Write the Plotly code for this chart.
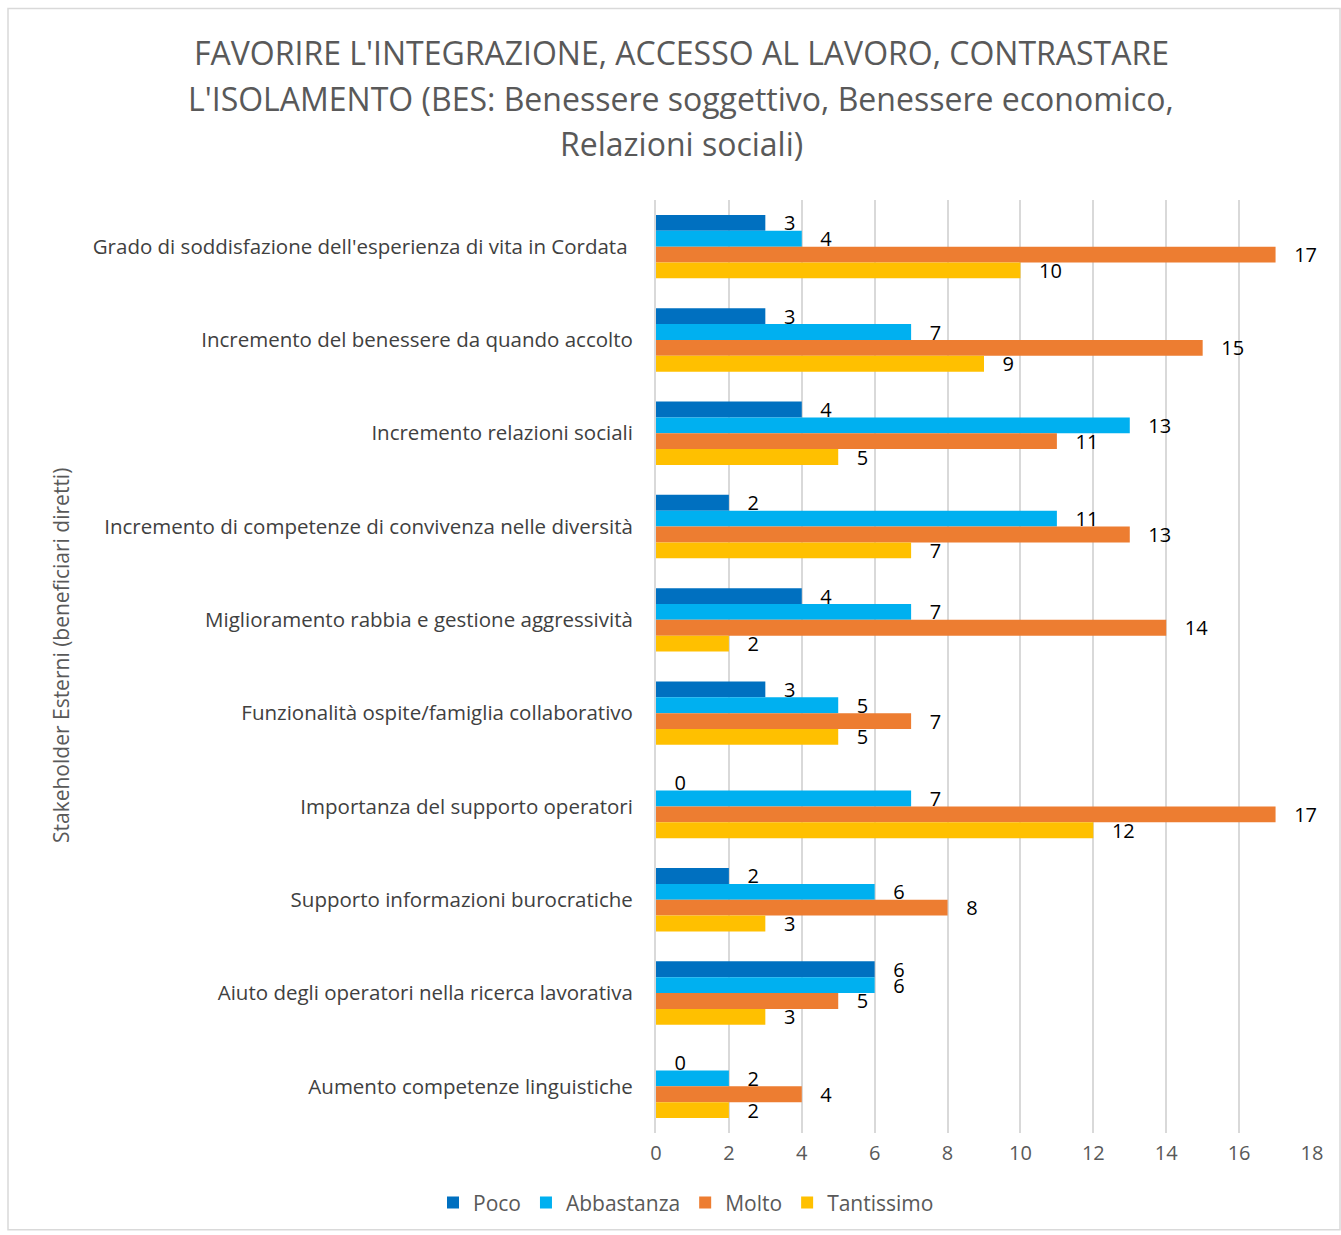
import plotly.graph_objects as go

categories = [
    "Grado di soddisfazione dell'esperienza di vita in Cordata ",
    "Incremento del benessere da quando accolto",
    "Incremento relazioni sociali",
    "Incremento di competenze di convivenza nelle diversità",
    "Miglioramento rabbia e gestione aggressività",
    "Funzionalità ospite/famiglia collaborativo",
    "Importanza del supporto operatori",
    "Supporto informazioni burocratiche",
    "Aiuto degli operatori nella ricerca lavorativa",
    "Aumento competenze linguistiche",
]
poco = [3, 3, 4, 2, 4, 3, 0, 2, 6, 0]
abbastanza = [4, 7, 13, 11, 7, 5, 7, 6, 6, 2]
molto = [17, 15, 11, 13, 14, 7, 17, 8, 5, 4]
tantissimo = [10, 9, 5, 7, 2, 5, 12, 3, 3, 2]

title_lines = [
    "FAVORIRE L'INTEGRAZIONE, ACCESSO AL LAVORO, CONTRASTARE",
    "L'ISOLAMENTO (BES: Benessere soggettivo, Benessere economico,",
    "Relazioni sociali)",
]
y_title = "Stakeholder Esterni (beneficiari diretti)"

series = [
    ("Poco", poco, "#0070C0"),
    ("Abbastanza", abbastanza, "#00B0F0"),
    ("Molto", molto, "#ED7D31"),
    ("Tantissimo", tantissimo, "#FFC000"),
]

FONT = "Open Sans"
fig = go.Figure()
for name, vals, color in series:
    fig.add_trace(go.Bar(
        y=categories, x=vals, name=name, orientation="h",
        marker=dict(color=color, line=dict(width=0)),
        text=vals, texttemplate="   %{x}", textposition="outside",
        constraintext="none",
        textfont=dict(family=FONT, size=20, color="#000000"),
        cliponaxis=False,
    ))

W, H = 1341, 1235
L, R, T, B = 656, 29, 200, 100
pw, ph = W - L - R, H - T - B

def px_x(p):
    return (p - L) / pw

def px_y(p):
    return (H - B - p) / ph

annotations = []
for i, (line, yc) in enumerate(zip(title_lines, [52, 98, 143])):
    annotations.append(dict(
        text=line, xref="paper", yref="paper", x=px_x(681), y=px_y(yc),
        xanchor="center", yanchor="middle", showarrow=False,
        font=dict(family=FONT, size=32, color="#595959"),
    ))
annotations.append(dict(
    text=y_title, xref="paper", yref="paper", x=px_x(61), y=px_y(657),
    xanchor="center", yanchor="middle", showarrow=False, textangle=-90,
    font=dict(family=FONT, size=21, color="#595959"),
))

fig.update_layout(
    width=W, height=H,
    margin=dict(l=L, r=R, t=T, b=B),
    paper_bgcolor="white", plot_bgcolor="white",
    barmode="group", bargap=0.32, bargroupgap=0,
    font=dict(family=FONT, color="#595959"),
    showlegend=True,
    xaxis=dict(
        range=[0, 18], dtick=2, tick0=0,
        showgrid=True, gridcolor="#D9D9D9", gridwidth=2,
        zeroline=False, showline=False, ticks="",
        ticklabelstandoff=6,
        tickfont=dict(family=FONT, size=20, color="#595959"),
    ),
    yaxis=dict(
        autorange="reversed", showgrid=False, ticks="",
        showline=True, linecolor="#D9D9D9", linewidth=2,
        tickfont=dict(family=FONT, size=20.5, color="#404040"),
        ticklabelstandoff=17,
    ),
    legend=dict(
        orientation="h", x=px_x(686), xanchor="center",
        y=px_y(1205), yanchor="middle",
        font=dict(family=FONT, size=21, color="#595959"),
        itemwidth=30, traceorder="normal", tracegroupgap=0,
    ),
    annotations=annotations,
    shapes=[dict(
        type="rect", xref="paper", yref="paper",
        x0=px_x(8), x1=px_x(1340), y0=px_y(1232), y1=px_y(8),
        line=dict(color="#D9D9D9", width=1.5), fillcolor="rgba(0,0,0,0)",
        layer="below",
    )],
)

fig.write_html("out.html")
